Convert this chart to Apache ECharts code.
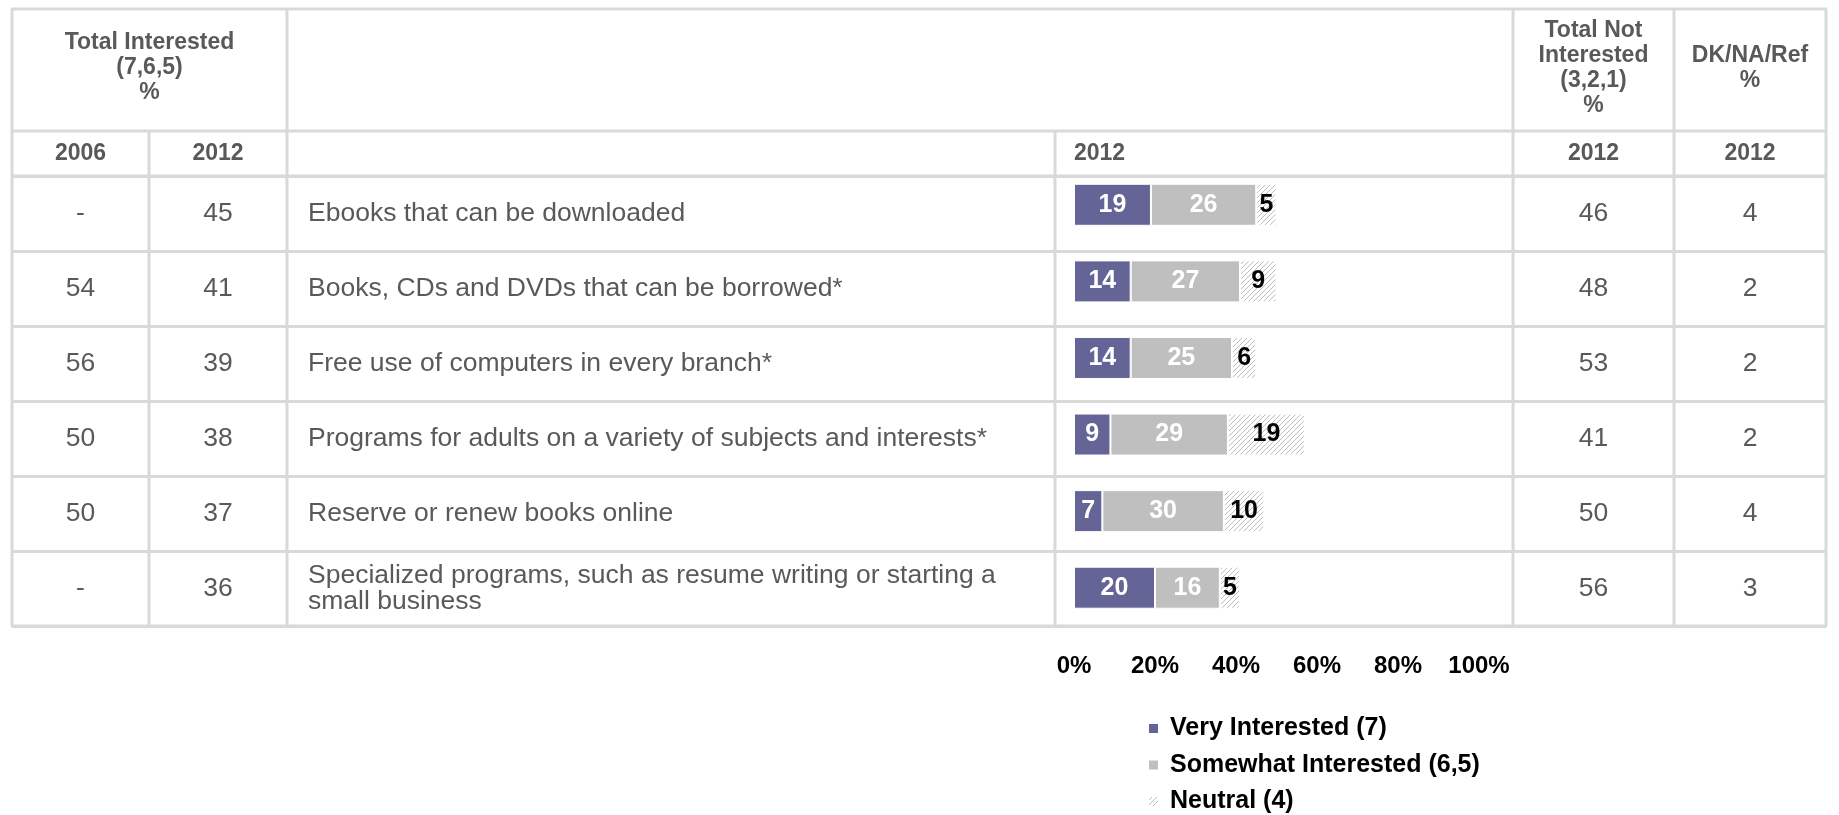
<!DOCTYPE html>
<html>
<head>
<meta charset="utf-8">
<title>Interest in library services</title>
<script src="https://cdn.jsdelivr.net/npm/echarts@6/dist/echarts.min.js"></script>
<style>
  html, body { margin: 0; padding: 0; background: #fff; }
  #chart { width: 1839px; height: 815px; }
</style>
</head>
<body>
<div id="chart"></div>
<script>
// ---- data ----
const rowLabels = [
  'Ebooks that can be downloaded',
  'Books, CDs and DVDs that can be borrowed*',
  'Free use of computers in every branch*',
  'Programs for adults on a variety of subjects and interests*',
  'Reserve or renew books online',
  'Specialized programs, such as resume writing or starting a\nsmall business'
];
const interested2006 = ['-', '54', '56', '50', '50', '-'];
const interested2012 = [45, 41, 39, 38, 37, 36];
const veryInterested = [19, 14, 14, 9, 7, 20];
const somewhatInterested = [26, 27, 25, 29, 30, 16];
const neutral = [5, 9, 6, 19, 10, 5];
const notInterested2012 = [46, 48, 53, 41, 50, 56];
const dkNaRef2012 = [4, 2, 2, 2, 4, 3];
const axisTicks = [0, 20, 40, 60, 80, 100];
const seriesNames = ['Very Interested (7)', 'Somewhat Interested (6,5)', 'Neutral (4)'];
const headerTop = ['Total Interested\n(7,6,5)\n%', 'Total Not\nInterested\n(3,2,1)\n%', 'DK/NA/Ref\n%'];
const headerYears = ['2006', '2012', '2012', '2012', '2012'];

// ---- layout ----
const FONT = '"Liberation Sans", Arial, Helvetica, sans-serif';
const TEXT_GRAY = '#595959';
const LINE = '#d9d9d9';
const T = { top: 9, head: 131, sub: 176, bottom: 626, left: 12, right: 1826 };
const colX = [12, 149, 287, 1055, 1513, 1674, 1826];
const labelX = 308;
const barLeft = 1074, barWidthPx = 405;

// hatched fill for the neutral segment
function hatch() {
  const s = 5;
  const c = document.createElement('canvas');
  c.width = s; c.height = s;
  const g = c.getContext('2d');
  g.fillStyle = '#ffffff';
  g.fillRect(0, 0, s, s);
  g.strokeStyle = '#bdbdbd';
  g.lineWidth = 1;
  g.beginPath();
  g.moveTo(0, s); g.lineTo(s, 0);
  g.moveTo(-1, 1); g.lineTo(1, -1);
  g.moveTo(s - 1, s + 1); g.lineTo(s + 1, s - 1);
  g.stroke();
  return { image: c, repeat: 'repeat' };
}

const chart = echarts.init(document.getElementById('chart'), null, { renderer: 'canvas' });

// table column texts are drawn as category-axis labels so they share the row bands
function textAxis(data, centerX, align) {
  return {
    type: 'category',
    gridIndex: 1,
    inverse: true,
    position: 'left',
    offset: T.left - centerX,
    data: data,
    axisLine: { show: false },
    axisTick: { show: false },
    splitLine: { show: false },
    axisLabel: {
      interval: 0,
      margin: 0,
      align: align,
      color: TEXT_GRAY,
      fontFamily: FONT,
      fontSize: 26.5,
      lineHeight: 26
    }
  };
}

function hLine(y, x1, x2) {
  return { type: 'line', silent: true, z: 1,
    shape: { x1: x1, y1: y, x2: x2, y2: y },
    style: { stroke: LINE, lineWidth: 3 } };
}
function vLine(x, y1, y2) {
  return { type: 'line', silent: true, z: 1,
    shape: { x1: x, y1: y1, x2: x, y2: y2 },
    style: { stroke: LINE, lineWidth: 3 } };
}
function headText(text, x, y, align) {
  return { type: 'text', silent: true, z: 2, x: x, y: y,
    style: { text: text, align: align || 'center', verticalAlign: 'middle',
      fontFamily: FONT, fontWeight: 'bold', fontSize: 23, lineHeight: 25, fill: TEXT_GRAY } };
}

const headMid = (T.top + T.head) / 2 - 2;
const subMid = (T.head + T.sub) / 2;
const graphics = [
  hLine(T.top, T.left - 1, T.right + 1),
  hLine(T.head, T.left, T.right),
  hLine(T.sub, T.left, T.right),
  hLine(T.bottom, T.left - 1, T.right + 1),
  vLine(colX[0], T.top, T.bottom),
  vLine(colX[1], T.head, T.bottom),
  vLine(colX[2], T.top, T.bottom),
  vLine(colX[3], T.head, T.bottom),
  vLine(colX[4], T.top, T.bottom),
  vLine(colX[5], T.top, T.bottom),
  vLine(colX[6], T.top, T.bottom),
  headText(headerTop[0], (colX[0] + colX[2]) / 2, headMid),
  headText(headerTop[1], (colX[4] + colX[5]) / 2, headMid),
  headText(headerTop[2], (colX[5] + colX[6]) / 2, headMid),
  headText(headerYears[0], (colX[0] + colX[1]) / 2, subMid),
  headText(headerYears[1], (colX[1] + colX[2]) / 2, subMid),
  headText(headerYears[2], barLeft, subMid, 'left'),
  headText(headerYears[3], (colX[4] + colX[5]) / 2, subMid),
  headText(headerYears[4], (colX[5] + colX[6]) / 2, subMid)
];

const segColors = ['#646496', '#bfbfbf', hatch()];
const segData = [veryInterested, somewhatInterested, neutral];
const segLabelColors = ['#ffffff', '#ffffff', '#000000'];

const barSeries = seriesNames.map((name, i) => ({
  type: 'bar',
  name: name,
  stack: 'total',
  xAxisIndex: 0,
  yAxisIndex: 0,
  barWidth: 42,
  data: segData[i],
  itemStyle: { color: segColors[i], borderColor: '#ffffff', borderWidth: 1 },
  label: {
    show: true,
    position: 'inside',
    color: segLabelColors[i],
    fontFamily: FONT,
    fontWeight: 'bold',
    fontSize: 25
  },
  emphasis: { disabled: true }
}));

chart.setOption({
  animation: false,
  backgroundColor: '#ffffff',
  textStyle: { fontFamily: FONT },
  grid: [
    { left: barLeft, top: 166.5, width: barWidthPx, height: 459.5 },
    { left: T.left, right: 1839 - T.right, top: T.sub, bottom: 815 - T.bottom }
  ],
  xAxis: [
    {
      type: 'value', gridIndex: 0, min: axisTicks[0], max: axisTicks[axisTicks.length - 1],
      interval: axisTicks[1] - axisTicks[0],
      axisLine: { show: false }, axisTick: { show: false }, splitLine: { show: false },
      axisLabel: { formatter: '{value}%', color: '#000', fontFamily: FONT,
        fontWeight: 'bold', fontSize: 24, margin: 28 }
    },
    { type: 'value', gridIndex: 1, show: false, min: 0, max: 1 }
  ],
  yAxis: [
    { type: 'category', gridIndex: 0, inverse: true, show: false, data: rowLabels },
    textAxis(rowLabels, labelX, 'left'),
    textAxis(interested2006, (colX[0] + colX[1]) / 2, 'center'),
    textAxis(interested2012, (colX[1] + colX[2]) / 2, 'center'),
    textAxis(notInterested2012, (colX[4] + colX[5]) / 2, 'center'),
    textAxis(dkNaRef2012, (colX[5] + colX[6]) / 2, 'center'),
    {
      type: 'category', gridIndex: 1, inverse: true, data: rowLabels,
      axisLine: { show: false }, axisTick: { show: false }, axisLabel: { show: false },
      splitLine: { show: true, lineStyle: { color: LINE, width: 3 } }
    }
  ],
  legend: {
    orient: 'vertical',
    left: 1147,
    top: 716,
    height: 120,
    padding: 0,
    itemWidth: 11,
    itemHeight: 11,
    itemGap: 11.5,
    icon: 'rect',
    selectedMode: false,
    data: seriesNames,
    textStyle: { color: '#000', fontFamily: FONT, fontWeight: 'bold', fontSize: 25,
      lineHeight: 25, padding: [0, 0, 0, 6] }
  },
  graphic: graphics,
  series: barSeries
});
</script>
</body>
</html>
